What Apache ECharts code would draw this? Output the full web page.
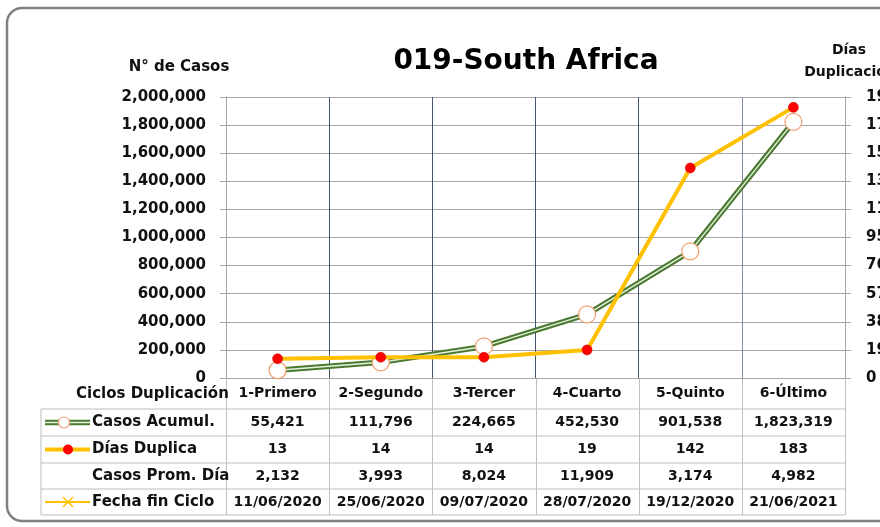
<!DOCTYPE html>
<html><head><meta charset="utf-8">
<script src="https://cdn.jsdelivr.net/npm/echarts@6/dist/echarts.min.js"></script>
<style>html,body{margin:0;padding:0;background:#fff}#c{width:880px;height:527px}</style>
</head><body><div id="c"></div>
<script>
const categories = ['1-Primero','2-Segundo','3-Tercer','4-Cuarto','5-Quinto','6-Último'];
const casosAcumul = [55421,111796,224665,452530,901538,1823319];
const diasDuplica = [13,14,14,19,142,183];
const casosPromDia = [2132,3993,8024,11909,3174,4982];
const fechaFinCiclo = ['11/06/2020','25/06/2020','09/07/2020','28/07/2020','19/12/2020','21/06/2021'];
const leftAxis = {min:0, max:2000000, interval:200000};
const rightAxis = {min:0, max:190, interval:19};
const rowLabels = ['Casos Acumul.','Días Duplica','Casos Prom. Día','Fecha fin Ciclo'];
const headerLabel = 'Ciclos Duplicación';
const titleText = '019-South Africa';
const leftName = 'N° de Casos';
const rightName = ['Días','Duplicación'];

const F = 'DejaVu Sans';
const fmt = v => v.toLocaleString('en-US');
const chart = echarts.init(document.getElementById('c'), null, {renderer:'canvas'});

const grid = {left:226, right:35, top:97, bottom:149, containLabel:false, outerBoundsMode:'none'};
const option = {
  animation:false,
  backgroundColor:'#fff',
  grid: grid,
  xAxis: {
    type:'category', data:categories, boundaryGap:true,
    axisLine:{show:true, lineStyle:{color:'#a6a6a6'}},
    axisTick:{show:false},
    axisLabel:{interval:0, margin:8, color:'#111', fontFamily:F, fontWeight:'bold', fontSize:14},
    splitLine:{show:true, interval:0, lineStyle:{color:['#a6a6a6','#44546a','#44546a','#44546a','#44546a','#7f8ea6','#a6a6a6']}}
  },
  yAxis: [
    {type:'value', min:leftAxis.min, max:leftAxis.max, interval:leftAxis.interval,
     axisLine:{show:true, lineStyle:{color:'#a6a6a6'}},
     axisTick:{show:true, length:6, lineStyle:{color:'#a6a6a6'}},
     axisLabel:{margin:20, color:'#111', fontFamily:F, fontWeight:'bold', fontSize:15, formatter:v=>fmt(v)},
     splitLine:{show:true, lineStyle:{color:'#a6a6a6'}}},
    {type:'value', min:rightAxis.min, max:rightAxis.max, interval:rightAxis.interval, position:'right',
     axisLine:{show:true, lineStyle:{color:'#a6a6a6'}},
     axisTick:{show:true, length:6, lineStyle:{color:'#a6a6a6'}},
     axisLabel:{margin:21, color:'#111', fontFamily:F, fontWeight:'bold', fontSize:15, formatter:v=>fmt(v)},
     splitLine:{show:false}}
  ],
  series: [
    {name:'Casos Acumul.', type:'line', yAxisIndex:0, data:casosAcumul, symbol:'none', z:2,
     lineStyle:{color:'#4a7a30', width:5.5}},
    {name:'Casos Acumul. inner', type:'line', yAxisIndex:0, data:casosAcumul, symbol:'none', z:3, silent:true,
     lineStyle:{color:'#e6f0de', width:1.4}},
    {name:'Casos Acumul. markers', type:'line', yAxisIndex:0, data:casosAcumul, symbol:'circle', symbolSize:17, z:4,
     lineStyle:{opacity:0}, itemStyle:{color:'#ffffff', borderColor:'#f0a070', borderWidth:1.2}},
    {name:'Días Duplica', type:'line', yAxisIndex:1, data:diasDuplica, symbol:'circle', symbolSize:10, z:5,
     lineStyle:{color:'#ffc000', width:4}, itemStyle:{color:'#ff0000', borderColor:'#c00000', borderWidth:0.5}}
  ]
};
chart.setOption(option);

// Build table from the axis scale
const c0 = chart.convertToPixel({xAxisIndex:0}, categories[0]);
const c1 = chart.convertToPixel({xAxisIndex:0}, categories[1]);
const band = c1 - c0;
const xStart = c0 - band/2;
const xEnd = xStart + band*categories.length;
const tableLeft = 41;
const rowLines = [409, 436, 463, 489, 515];
const headerTop = 378;
const els = [];
const gray = '#bfbfbf';
// frame
els.push({type:'rect', shape:{x:7, y:8, width:910, height:513, r:15}, style:{fill:null, stroke:'#808080', lineWidth:2.5}, z:0});
// horizontal table lines
rowLines.forEach(y => els.push({type:'line', shape:{x1:tableLeft, y1:y, x2:xEnd, y2:y}, style:{stroke:gray, lineWidth:1}}));
els.push({type:'line', shape:{x1:tableLeft, y1:rowLines[0], x2:tableLeft, y2:rowLines[4]}, style:{stroke:gray, lineWidth:1}});
for (let i=0;i<=categories.length;i++){
  const x = Math.round(xStart + band*i)+0.5;
  els.push({type:'line', shape:{x1:x, y1:headerTop, x2:x, y2:rowLines[4]}, style:{stroke:gray, lineWidth:1}});
}
const rowVals = [casosAcumul.map(fmt), diasDuplica.map(fmt), casosPromDia.map(fmt), fechaFinCiclo];
rowVals.forEach((vals, r) => {
  const yc = (rowLines[r] + rowLines[r+1]) / 2;
  vals.forEach((v, i) => {
    els.push({type:'text', x: c0 + band*i, y: yc, style:{text:v, fill:'#111', font:'bold 14px "'+F+'"', textAlign:'center', textVerticalAlign:'middle'}});
  });
  els.push({type:'text', x:92, y:yc, style:{text:rowLabels[r], fill:'#111', font:'bold 15px "'+F+'"', textAlign:'left', textVerticalAlign:'middle'}});
});
// legend keys
const ky = r => (rowLines[r] + rowLines[r+1]) / 2;
els.push({type:'line', shape:{x1:45, y1:ky(0), x2:90, y2:ky(0)}, style:{stroke:'#4a7a30', lineWidth:5.5}});
els.push({type:'line', shape:{x1:45, y1:ky(0), x2:90, y2:ky(0)}, style:{stroke:'#e6f0de', lineWidth:1.4}});
els.push({type:'circle', shape:{cx:64, cy:ky(0), r:5.5}, style:{fill:'#fff', stroke:'#f0a070', lineWidth:1.2}});
els.push({type:'line', shape:{x1:45, y1:ky(1), x2:90, y2:ky(1)}, style:{stroke:'#ffc000', lineWidth:4}});
els.push({type:'circle', shape:{cx:68, cy:ky(1), r:5}, style:{fill:'#ff0000'}});
els.push({type:'line', shape:{x1:45, y1:ky(3), x2:90, y2:ky(3)}, style:{stroke:'#ffc000', lineWidth:2}});
els.push({type:'line', shape:{x1:63, y1:ky(3)-5, x2:73, y2:ky(3)+5}, style:{stroke:'#ffc000', lineWidth:1.5}});
els.push({type:'line', shape:{x1:63, y1:ky(3)+5, x2:73, y2:ky(3)-5}, style:{stroke:'#ffc000', lineWidth:1.5}});
// header label
els.push({type:'text', x:76, y:394, style:{text:headerLabel, fill:'#111', font:'bold 15px "'+F+'"', textAlign:'left', textVerticalAlign:'middle'}});
// titles
els.push({type:'text', x:526, y:62, style:{text:titleText, fill:'#000', font:'bold 28px "'+F+'"', textAlign:'center', textVerticalAlign:'middle'}});
els.push({type:'text', x:179, y:67, style:{text:leftName, fill:'#111', font:'bold 15px "'+F+'"', textAlign:'center', textVerticalAlign:'middle'}});
els.push({type:'text', x:849, y:50, style:{text:rightName[0], fill:'#111', font:'bold 14px "'+F+'"', textAlign:'center', textVerticalAlign:'middle'}});
els.push({type:'text', x:850, y:72, style:{text:rightName[1], fill:'#111', font:'bold 14px "'+F+'"', textAlign:'center', textVerticalAlign:'middle'}});
chart.setOption({graphic:{elements:els}});
</script></body></html>
